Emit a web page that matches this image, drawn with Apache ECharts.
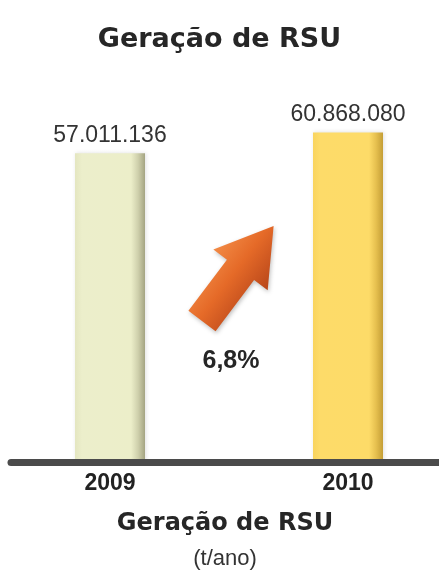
<!DOCTYPE html>
<html>
<head>
<meta charset="utf-8">
<title>Geração de RSU</title>
<script src="https://cdn.jsdelivr.net/npm/echarts@6/dist/echarts.min.js"></script>
<style>
  html, body { margin: 0; padding: 0; background: #ffffff; }
  #chart { width: 439px; height: 574px; }
</style>
</head>
<body>
<div id="chart"></div>
<script>
// Municipal solid waste generation (t/ano)
const years = ['2009', '2010'];
const geracao = [57011136, 60868080];
const barColors = [
  ['#e4e6c0', '#eceecb', '#eceec9', '#cfd0ac', '#a4a482'],
  ['#f9d45e', '#fddb69', '#fddb68', '#e6c04f', '#c49e36']
];

// 57011136 -> "57.011.136"
function fmtThousands(v) {
  return String(v).replace(/\B(?=(\d{3})+(?!\d))/g, '.');
}
// growth between the two years, one decimal, comma separator
const growth = ((geracao[1] / geracao[0] - 1) * 100).toFixed(1).replace('.', ',') + '%';

function barGradient(c) {
  return new echarts.graphic.LinearGradient(0, 0, 1, 0, [
    { offset: 0, color: c[0] },
    { offset: 0.1, color: c[1] },
    { offset: 0.8, color: c[2] },
    { offset: 0.9, color: c[3] },
    { offset: 1, color: c[4] }
  ]);
}

const chart = echarts.init(document.getElementById('chart'), null, { renderer: 'canvas' });

const option = {
  backgroundColor: '#ffffff',
  animation: false,
  title: {
    text: 'Geração de RSU',
    left: 'center',
    top: 21,
    textStyle: {
      fontFamily: 'DejaVu Sans',
      fontWeight: 'bold',
      fontSize: 27,
      color: '#262626'
    }
  },
  grid: [
    { left: -9, right: -28, top: 83, bottom: 112, outerBoundsMode: 'none', containLabel: false },
    { left: 11, right: 0, top: 83, bottom: 112, outerBoundsMode: 'none', containLabel: false }
  ],
  xAxis: [
    {
      type: 'category',
      gridIndex: 0,
      data: years,
      axisLine: { show: false },
      axisTick: { show: false },
      axisLabel: {
        margin: 10,
        fontFamily: 'Liberation Sans',
        fontWeight: 'bold',
        fontSize: 23,
        color: '#222222'
      }
    },
    {
      type: 'category',
      gridIndex: 1,
      data: ['', ''],
      z: 10,
      axisLine: { show: true, lineStyle: { color: '#4b4b4b', width: 7 } },
      axisTick: { show: false },
      axisLabel: { show: false },
      name: '{a|Geração de RSU}\n{b|(t/ano)}',
      nameLocation: 'middle',
      nameGap: 46,
      nameTextStyle: {
        rich: {
          a: {
            fontFamily: 'DejaVu Sans',
            fontWeight: 'bold',
            fontSize: 24,
            color: '#262626',
            lineHeight: 32,
            align: 'center'
          },
          b: {
            fontFamily: 'Liberation Sans',
            fontSize: 22,
            color: '#333333',
            lineHeight: 38,
            align: 'center'
          }
        }
      }
    }
  ],
  yAxis: [
    { type: 'value', gridIndex: 0, min: 0, max: 70000000, show: false },
    { type: 'value', gridIndex: 1, min: 0, max: 70000000, show: false }
  ],
  series: [
    {
      type: 'bar',
      xAxisIndex: 0,
      yAxisIndex: 0,
      barWidth: 70,
      data: geracao.map((v, i) => ({
        value: v,
        itemStyle: {
          color: barGradient(barColors[i]),
          shadowColor: 'rgba(0,0,0,0.12)',
          shadowBlur: 4,
          shadowOffsetX: 1
        }
      })),
      label: {
        show: true,
        position: 'top',
        distance: 6,
        formatter: p => fmtThousands(p.value),
        fontFamily: 'Liberation Sans',
        fontSize: 23,
        color: '#333333'
      }
    }
  ],
  graphic: [
    {
      // growth arrow between the two bars
      type: 'polygon',
      x: 202,
      y: 321,
      rotation: 53 * Math.PI / 180,
      shape: {
        points: [[0, -17], [64, -17], [64, -34], [119, 0], [64, 34], [64, 17], [0, 17]]
      },
      style: {
        fill: new echarts.graphic.LinearGradient(0, 0, 0, 1, [
          { offset: 0, color: '#f28a45' },
          { offset: 0.45, color: '#e56a28' },
          { offset: 1, color: '#b8461a' }
        ]),
        shadowColor: 'rgba(0,0,0,0.25)',
        shadowBlur: 4,
        shadowOffsetX: 1,
        shadowOffsetY: 2
      },
      z: 20
    },
    {
      type: 'text',
      x: 231,
      y: 361,
      style: {
        text: growth,
        align: 'center',
        verticalAlign: 'middle',
        fontFamily: 'Liberation Sans',
        fontWeight: 'bold',
        fontSize: 25,
        fill: '#262626'
      },
      z: 20
    }
  ]
};

chart.setOption(option);
</script>
</body>
</html>
